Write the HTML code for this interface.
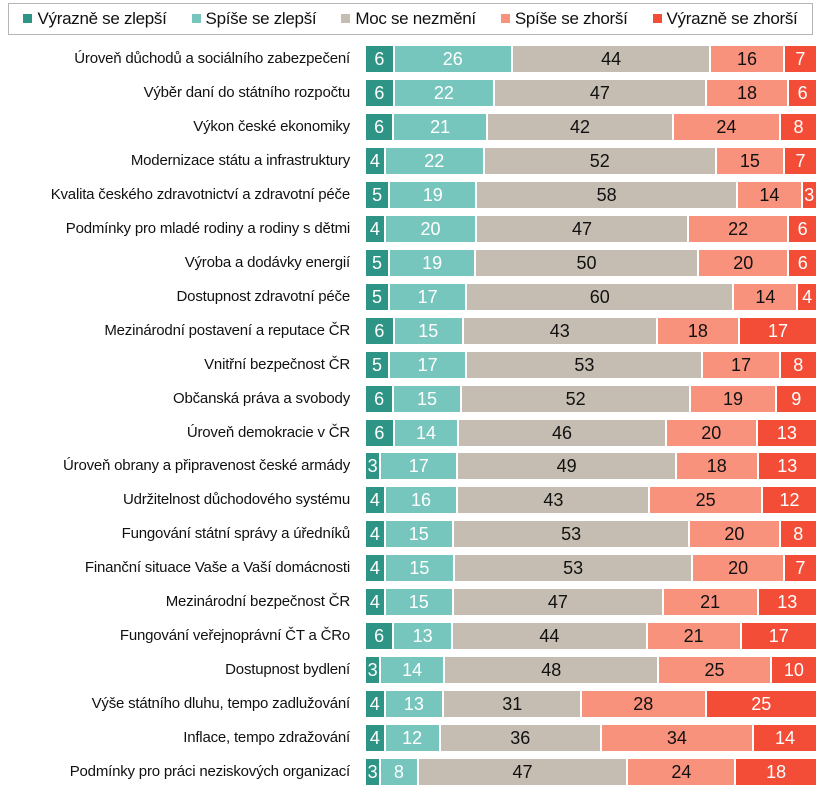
<!DOCTYPE html>
<html><head><meta charset="utf-8"><style>
body{margin:0;width:817px;height:788px;background:#fff;font-family:"Liberation Sans",sans-serif;position:relative;overflow:hidden}
.leg{position:absolute;left:8px;top:3px;width:805px;height:32px;border:1.5px solid #b5b5b5;box-sizing:border-box;display:flex;align-items:center;justify-content:space-around;font-size:17px;color:#111;padding:0 2px;letter-spacing:-0.3px}
.leg span i{display:inline-block;width:9px;height:9px;margin-right:5px;vertical-align:1px}
.row{position:absolute;left:0;width:817px;height:26px}
.lab{position:absolute;right:467px;top:0;line-height:26px;font-size:15px;color:#111;white-space:nowrap;letter-spacing:-0.2px}
.bar{position:absolute;left:366px;top:0;width:450px;height:26px;display:flex;gap:2px}
.bar div{height:26px;line-height:26px;text-align:center;font-size:18px;overflow:visible;white-space:nowrap}
.a{background:#2e9586;color:#fff}.b{background:#76c6bd;color:#fff}.c{background:#c5bdb1;color:#111}.d{background:#f9927d;color:#111}.e{background:#f44d37;color:#fff}
</style></head><body>
<div class="leg">
<span><i style="background:#2e9586"></i>Výrazně se zlepší</span>
<span><i style="background:#76c6bd"></i>Spíše se zlepší</span>
<span><i style="background:#c5bdb1"></i>Moc se nezmění</span>
<span><i style="background:#f9927d"></i>Spíše se zhorší</span>
<span><i style="background:#f44d37"></i>Výrazně se zhorší</span>
</div>
<div id="rows"></div>
<script>
var d=[["Úroveň důchodů a sociálního zabezpečení",6,26,44,16,7],
["Výběr daní do státního rozpočtu",6,22,47,18,6],
["Výkon české ekonomiky",6,21,42,24,8],
["Modernizace státu a infrastruktury",4,22,52,15,7],
["Kvalita českého zdravotnictví a zdravotní péče",5,19,58,14,3],
["Podmínky pro mladé rodiny a rodiny s dětmi",4,20,47,22,6],
["Výroba a dodávky energií",5,19,50,20,6],
["Dostupnost zdravotní péče",5,17,60,14,4],
["Mezinárodní postavení a reputace ČR",6,15,43,18,17],
["Vnitřní bezpečnost ČR",5,17,53,17,8],
["Občanská práva a svobody",6,15,52,19,9],
["Úroveň demokracie v ČR",6,14,46,20,13],
["Úroveň obrany a připravenost české armády",3,17,49,18,13],
["Udržitelnost důchodového systému",4,16,43,25,12],
["Fungování státní správy a úředníků",4,15,53,20,8],
["Finanční situace Vaše a Vaší domácnosti",4,15,53,20,7],
["Mezinárodní bezpečnost ČR",4,15,47,21,13],
["Fungování veřejnoprávní ČT a ČRo",6,13,44,21,17],
["Dostupnost bydlení",3,14,48,25,10],
["Výše státního dluhu, tempo zadlužování",4,13,31,28,25],
["Inflace, tempo zdražování",4,12,36,34,14],
["Podmínky pro práci neziskových organizací",3,8,47,24,18]];
var h="",cl="abcde";
d.forEach(function(r,i){var y=46+i*33.95;var s=r[1]+r[2]+r[3]+r[4]+r[5];
h+='<div class="row" style="top:'+y.toFixed(1)+'px"><div class="lab">'+r[0]+'</div><div class="bar">';
for(var k=1;k<6;k++){h+='<div class="'+cl[k-1]+'" style="width:'+((450-8)*r[k]/s).toFixed(2)+'px">'+r[k]+'</div>';}
h+='</div></div>';});
document.getElementById("rows").innerHTML=h;
</script>
</body></html>
